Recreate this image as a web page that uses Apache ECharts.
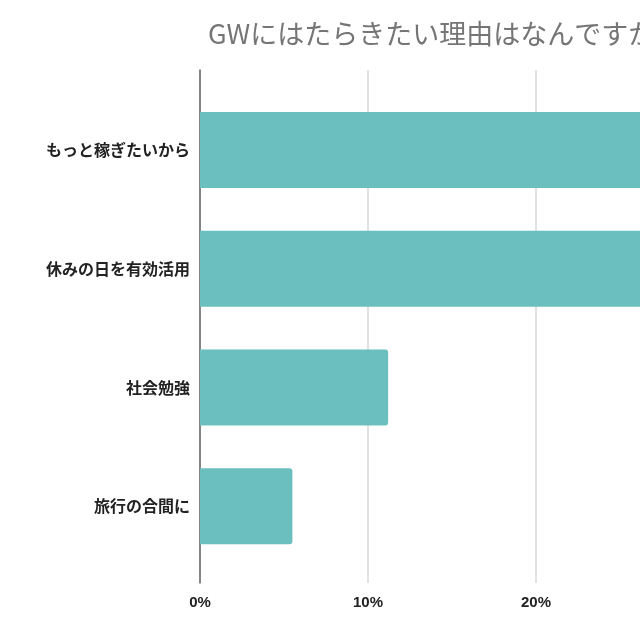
<!DOCTYPE html>
<html>
<head>
<meta charset="utf-8">
<script src="https://cdn.jsdelivr.net/npm/echarts@6/dist/echarts.min.js"></script>
<style>
html,body{margin:0;padding:0;width:640px;height:640px;overflow:hidden;background:#fff;}
#c{width:1100px;height:640px;}
</style>
</head>
<body>
<div id="c"></div>
<script>
const titleText = 'GWにはたらきたい理由はなんですか？';
const categories = ['もっと稼ぎたいから', '休みの日を有効活用', '社会勉強', '旅行の合間に'];
const values = [47.2, 36.1, 11.2, 5.5];
const xMin = 0, xMax = 50, xStep = 10;

const chart = echarts.init(document.getElementById('c'), null, {renderer: 'canvas'});
const font = '"Noto Sans CJK JP", "Noto Sans", sans-serif';
chart.setOption({
  animation: false,
  backgroundColor: '#ffffff',
  title: {
    text: titleText,
    left: 203,
    top: 15,
    textStyle: {color: '#757575', fontSize: 27, fontWeight: 'normal', fontFamily: font}
  },
  grid: [
    {left: 200, top: 70, width: 840, height: 513},
    {left: 200, top: 90.7, width: 840, height: 474.8}
  ],
  xAxis: [
    {
      gridIndex: 0, type: 'value', min: xMin, max: xMax, interval: xStep,
      axisLine: {show: false}, axisTick: {show: false},
      splitLine: {show: true, lineStyle: {color: '#d9d9d9', width: 1.5}},
      axisLabel: {
        margin: 12, color: '#222', fontSize: 15, fontWeight: 'bold',
        fontFamily: 'Arial, "Liberation Sans", sans-serif',
        formatter: v => v + '%'
      }
    },
    {
      gridIndex: 1, type: 'value', min: xMin, max: xMax, interval: xStep,
      show: false
    }
  ],
  yAxis: [
    {
      gridIndex: 0, type: 'value', min: 0, max: 1,
      axisLine: {show: true, lineStyle: {color: '#666', width: 1.5}},
      axisTick: {show: false}, axisLabel: {show: false}, splitLine: {show: false}
    },
    {
      gridIndex: 1, type: 'category', data: categories, inverse: true,
      axisLine: {show: false}, axisTick: {show: false},
      axisLabel: {margin: 10, color: '#222', fontSize: 16, fontWeight: 'bold', fontFamily: font}
    }
  ],
  series: [{
    type: 'bar',
    xAxisIndex: 1, yAxisIndex: 1,
    data: values,
    barWidth: 76,
    itemStyle: {color: '#6cbfbf', borderRadius: [0, 3, 3, 0]}
  }]
});
</script>
</body>
</html>
